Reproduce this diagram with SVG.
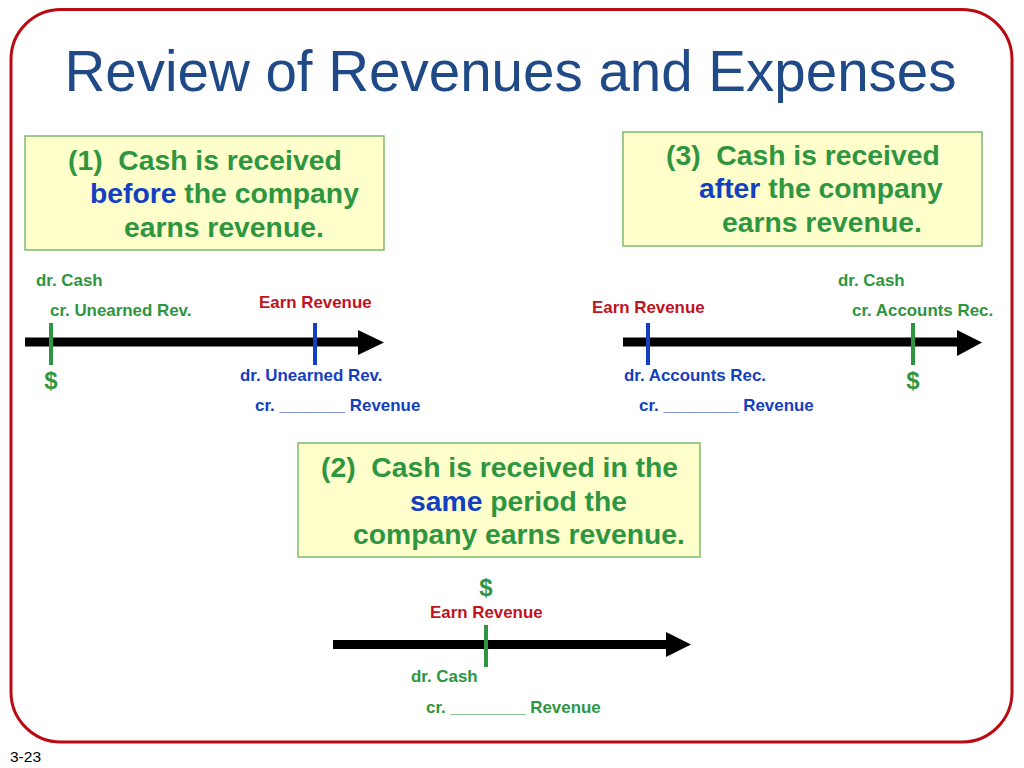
<svg xmlns="http://www.w3.org/2000/svg" width="1024" height="768" viewBox="0 0 1024 768">
<defs>
<style>
.t{font-family:"Liberation Sans",Arial,Helvetica,sans-serif;font-weight:bold}
.box{fill:#FFFFCC;stroke:#7DBB6E;stroke-width:1.5}
.bt{font-size:28.3px;fill:#2E9640}
.bl{fill:#1340C0}
.g{fill:#2E9640}
.b{fill:#1340C0}
.r{fill:#C0131D}
.s{font-size:16.9px}
.d{font-size:24px}
.axis{stroke:#000;stroke-width:9}
.head{fill:#000}
.tg{stroke:#2E9640;stroke-width:4}
.tb{stroke:#1340C0;stroke-width:4}
</style>
</defs>
<rect x="0" y="0" width="1024" height="768" fill="#fff"/>
<rect id="frame" x="11" y="9.5" width="1001" height="732.5" rx="50" ry="50" fill="none" stroke="#BB0A14" stroke-width="3"/>
<text id="title" x="510.5" y="91" text-anchor="middle" font-family="'Liberation Sans',Arial,Helvetica,sans-serif" font-size="56.5" fill="#1F4A87">Review of Revenues and Expenses</text>
<text id="page" x="10" y="762" font-family="'Liberation Sans',Arial,Helvetica,sans-serif" font-size="15.5" fill="#000">3-23</text>

<g id="box1">
<rect class="box" x="25" y="136" width="359" height="114"/>
<text class="t bt" x="68" y="170" xml:space="preserve">(1)  Cash is received</text>
<text class="t bt" x="90" y="203"><tspan class="bl">before</tspan> the company</text>
<text class="t bt" x="124" y="237">earns revenue.</text>
</g>

<g id="box3">
<rect class="box" x="623" y="132" width="359" height="114"/>
<text class="t bt" x="666" y="165" xml:space="preserve">(3)  Cash is received</text>
<text class="t bt" x="699" y="198"><tspan class="bl">after</tspan> the company</text>
<text class="t bt" x="722" y="232">earns revenue.</text>
</g>

<g id="box2">
<rect class="box" x="298" y="443" width="402" height="114"/>
<text class="t bt" x="321" y="477" xml:space="preserve">(2)  Cash is received in the</text>
<text class="t bt" x="410" y="511"><tspan class="bl">same</tspan> period the</text>
<text class="t bt" x="353" y="544">company earns revenue.</text>
</g>

<g id="connectors">
<line class="axis" x1="25" y1="342" x2="360" y2="342"/>
<polygon class="head" points="358,330 384,342.5 358,355"/>
<line class="axis" x1="623" y1="342" x2="959" y2="342"/>
<polygon class="head" points="957,330 982,342.5 957,356"/>
<line class="axis" x1="333" y1="644.5" x2="668" y2="644.5"/>
<polygon class="head" points="666,632 691,644.5 666,657"/>
</g>

<g id="timeline1">
<line class="tg" x1="51" y1="323" x2="51" y2="365"/>
<line class="tb" x1="315" y1="323" x2="315" y2="365"/>
<text class="t s g" x="36" y="286">dr. Cash</text>
<text class="t s g" x="50" y="316">cr. Unearned Rev.</text>
<text class="t s r" x="259" y="308">Earn Revenue</text>
<text class="t d g" x="51" y="389" text-anchor="middle">$</text>
<text class="t s b" x="240" y="381">dr. Unearned Rev.</text>
<text class="t s b" x="255" y="411">cr. _______ Revenue</text>
</g>

<g id="timeline3">
<line class="tb" x1="648" y1="323" x2="648" y2="365"/>
<line class="tg" x1="913" y1="323" x2="913" y2="365"/>
<text class="t s g" x="838" y="286">dr. Cash</text>
<text class="t s g" x="852" y="316">cr. Accounts Rec.</text>
<text class="t s r" x="592" y="313">Earn Revenue</text>
<text class="t d g" x="913" y="389" text-anchor="middle">$</text>
<text class="t s b" x="624" y="381">dr. Accounts Rec.</text>
<text class="t s b" x="639" y="411">cr. ________ Revenue</text>
</g>

<g id="timeline2">
<line class="tg" x1="486" y1="625" x2="486" y2="667"/>
<text class="t d g" x="486" y="596" text-anchor="middle">$</text>
<text class="t s r" x="430" y="618">Earn Revenue</text>
<text class="t s g" x="411" y="682">dr. Cash</text>
<text class="t s g" x="426" y="713">cr. ________ Revenue</text>
</g>
</svg>
